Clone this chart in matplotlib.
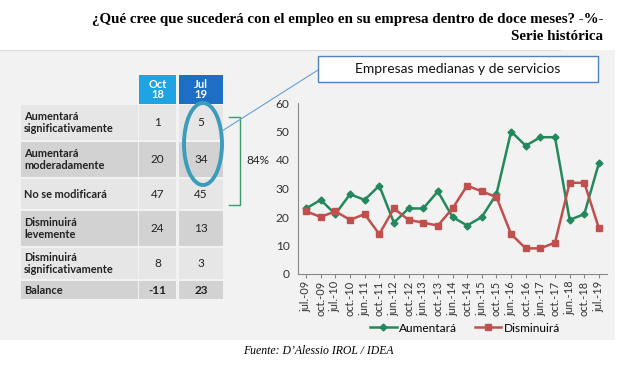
import matplotlib.pyplot as plt
from matplotlib.patches import Rectangle, Ellipse
from matplotlib.lines import Line2D

# =========================
# Data
# =========================
periods = ["jul.-09", "oct.-09", "jul.-10", "oct.-10", "jun.-11", "oct.-11",
           "jun.-12", "oct.-12", "jun.-13", "oct.-13", "jun.-14", "oct.-14",
           "jun.-15", "oct.-15", "jun.-16", "oct.-16", "jun.-17", "oct.-17",
           "jun.-18", "oct.-18", "jul.-19"]
aumentara = [23, 26, 21, 28, 26, 31, 18, 23, 23, 29, 20, 17, 20, 28, 50, 45, 48, 48, 19, 21, 39]
disminuira = [22, 20, 22, 19, 21, 14, 23, 19, 18, 17, 23, 31, 29, 27, 14, 9, 9, 11, 32, 32, 16]

row_labels = ["Aumentará\nsignificativamente", "Aumentará\nmoderadamente", "No se modificará",
              "Disminuirá\nlevemente", "Disminuirá\nsignificativamente", "Balance"]
col_headers = ["Oct\n18", "Jul\n19"]
oct18 = ["1", "20", "47", "24", "8", "-11"]
jul19 = ["5", "34", "45", "13", "3", "23"]

W, H = 637, 366
GREEN = "#23895c"
RED = "#c0504d"
FONT = "Lato"

plt.rcParams.update({"font.family": [FONT, "DejaVu Sans"]})

fig = plt.figure(figsize=(W / 100, H / 100), dpi=100)
fig.patch.set_facecolor("white")

# overlay in pixel coords
ov = fig.add_axes([0, 0, 1, 1])
ov.set_xlim(0, W)
ov.set_ylim(H, 0)
ov.axis("off")

# background panel
ov.add_patch(Rectangle((0, 50), 615, 290, facecolor="#f2f2f2", edgecolor="none", zorder=0))
ov.plot([0, 560], [50, 50], color="#dddddd", lw=0.8)

# title
ov.text(603, 20, "¿Qué cree que sucederá con el empleo en su empresa dentro de doce meses? -%-",
        ha="right", va="center", family="Liberation Serif", fontweight="bold", fontsize=10.8)
ov.text(603, 37, "Serie histórica", ha="right", va="center",
        family="Liberation Serif", fontweight="bold", fontsize=10.8)

# table
hdr_colors = ["#1fa3e2", "#1d6fc5"]
col_x = [(139, 37), (179, 44)]
for (x0, w), txt, c in zip(col_x, col_headers, hdr_colors):
    ov.add_patch(Rectangle((x0, 75), w, 29, facecolor=c, edgecolor="none", zorder=1))
    ov.text(x0 + w / 2, 89.5, txt, ha="center", va="center", color="white",
            fontsize=8, fontweight="bold", linespacing=1.0, zorder=2)

row_edges = [104, 141, 178, 210, 247, 280, 300]
row_cols = ["#e6e6e6", "#d2d2d2", "#e6e6e6", "#d2d2d2", "#e6e6e6", "#d2d2d2"]
for i, lab in enumerate(row_labels):
    y0, y1 = row_edges[i] + 1, row_edges[i + 1] - 1
    ov.add_patch(Rectangle((21, y0), 117, y1 - y0, facecolor=row_cols[i], edgecolor="none", zorder=1))
    for (x0, w) in col_x:
        ov.add_patch(Rectangle((x0, y0), w, y1 - y0, facecolor=row_cols[i], edgecolor="none", zorder=1))
    ym = (y0 + y1) / 2
    ov.text(24, ym, lab, ha="left", va="center", fontsize=7.9, fontweight="bold",
            color="#222222", linespacing=1.05, zorder=2)
    bold = "bold" if i == 5 else "normal"
    ov.text(col_x[0][0] + col_x[0][1] / 2, ym, oct18[i], ha="center", va="center",
            fontsize=8.5, fontweight=bold, color="#222222", zorder=2)
    ov.text(col_x[1][0] + col_x[1][1] / 2, ym, jul19[i], ha="center", va="center",
            fontsize=8.5, fontweight=bold, color="#222222", zorder=2)

# ellipse highlight
ov.add_patch(Ellipse((203, 144), 38, 82, facecolor="none", edgecolor="#3b9cbc", lw=2.8, zorder=3))

# bracket
ov.plot([229, 240, 240, 229], [117, 117, 205, 205], color="#3a9a6a", lw=1.0, zorder=3)
ov.text(258, 160, "84%", ha="center", va="center", fontsize=8.5, color="#222222")

# callout
ov.plot([222, 318], [131, 70], color="#6a9fd0", lw=0.8, zorder=3)
ov.add_patch(Rectangle((318, 56), 280, 26, facecolor="white", edgecolor="#4f81bd", lw=1.0, zorder=3))
ov.text(458, 69, "Empresas medianas y de servicios", ha="center", va="center", fontsize=10,
        color="#111111", zorder=4)

# footer
ov.text(318, 351, "Fuente: D\u2019Alessio IROL / IDEA", ha="center", va="center",
        family="Liberation Serif", style="italic", fontsize=8.5)

# =========================
# Line chart
# =========================
ax = fig.add_axes([298 / W, (H - 274) / H, (607 - 298) / W, (274 - 103) / H])
ax.patch.set_alpha(0)
x = list(range(len(periods)))
ax.plot(x, aumentara, color=GREEN, lw=1.8, marker="D", ms=3.5, label="Aumentará")
ax.plot(x, disminuira, color=RED, lw=1.8, marker="s", ms=4.5, label="Disminuirá")
ax.set_ylim(0, 60)
ax.set_yticks(range(0, 61, 10))
ax.set_xlim(-0.55, len(periods) - 0.45)
ax.set_xticks(x)
ax.set_xticklabels(periods, rotation=90, fontsize=7.9, color="#333333")
ax.tick_params(axis="y", labelsize=8.6, colors="#333333", length=0, pad=6)
ax.tick_params(axis="x", length=3, color="#888888", pad=2)
for s in ["top", "right"]:
    ax.spines[s].set_visible(False)
ax.spines["left"].set_color("#888888")
ax.spines["bottom"].set_color("#888888")

handles = [Line2D([], [], color=GREEN, lw=1.8, marker="D", ms=3.5),
           Line2D([], [], color=RED, lw=1.8, marker="s", ms=4.5)]
fig.legend(handles, ["Aumentará", "Disminuirá"], loc="center", bbox_to_anchor=(465 / W, 1 - 328 / H),
           ncol=2, frameon=False, fontsize=8.6, handlelength=2.2, columnspacing=1.5, handletextpad=0.2)

fig.savefig("out.png", dpi=100)
